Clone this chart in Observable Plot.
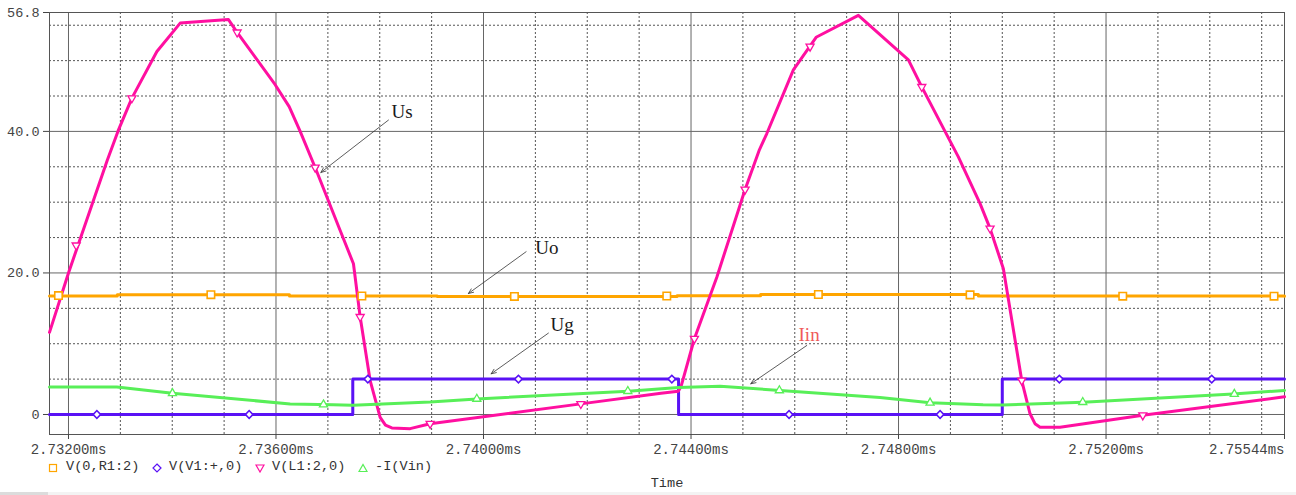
<!DOCTYPE html>
<html><head><meta charset="utf-8">
<script src="https://cdn.jsdelivr.net/npm/d3@7"></script>
<script src="https://cdn.jsdelivr.net/npm/@observablehq/plot@0.6"></script>
<style>
body{margin:0;background:#fff;}
#wrap{position:relative;width:1296px;height:495px;overflow:hidden;font-family:"Liberation Mono","Courier New",monospace;color:#333;}
#wrap svg{display:block;}
#wrap svg text{font-family:"Liberation Mono","Courier New",monospace;}
#wrap svg text.serif, #wrap svg g.serif text{font-family:"Liberation Serif","Times New Roman",serif;}
.lg{position:absolute;top:459px;font-size:13.6px;line-height:16px;white-space:pre;color:#333;}
.sym{position:absolute;top:463px;}
#time{position:absolute;top:476px;left:0;width:1334px;text-align:center;font-size:13.6px;color:#333;}
#bar{position:absolute;top:492px;left:0;width:1296px;height:3px;background:#f3f3f3;}
#bar2{position:absolute;top:492px;left:0;width:48px;height:3px;background:#dcdcdc;}
</style></head><body><div id="wrap"></div>
<script>
// ---- data (time in ms, values in V / A) ----
const usT = [2.731634,2.732000,2.732746,2.732958,2.733222,2.733704,2.734153,2.735084,2.735251,2.735984,2.736254,2.736466,2.736755,2.737237,2.737493,2.737622,2.737815,2.738008,2.738110,2.738233,2.738586,2.738971,2.741876,2.743420,2.743757,2.743810,2.744065,2.744497,2.745042,2.745318,2.745461,2.745973,2.746411,2.747226,2.748190,2.748448,2.749153,2.749572,2.749764,2.750021,2.750375,2.750535,2.750630,2.750728,2.751113,2.752708,2.755440];
const usV = [11.6,20.0,35.9,40.1,44.7,51.3,55.3,55.8,54.0,46.6,43.5,40.0,34.9,26.0,21.3,13.8,4.8,-0.4,-1.5,-1.9,-2.0,-1.3,1.5,3.0,3.3,4.0,10.7,19.4,31.8,37.4,39.7,48.7,53.3,56.4,50.1,46.3,36.4,29.8,26.3,20.6,4.8,0.1,-1.3,-1.8,-1.8,-0.1,2.5];

const uoT = [2.731634,2.732940,2.736260,2.739110,2.743730,2.745340,2.749540,2.755440];
const uoV = [16.76,16.93,16.74,16.68,16.78,16.95,16.74,16.72];

const ugT = [2.731634,2.737480,2.743760,2.750000,2.755440];
const ugV = [0,5,0,5,5];

const iinT = [2.731634,2.732933,2.734004,2.736273,2.737102,2.737481,2.738971,2.739871,2.742793,2.743757,2.744561,2.745717,2.747644,2.748608,2.749630,2.750001,2.751557,2.754448,2.755440];
const iinV = [3.9,3.9,3.0,1.5,1.38,1.3,1.75,2.2,3.3,3.8,4.0,3.4,2.4,1.66,1.37,1.35,1.74,2.9,3.4];

// trace markers
const uoMkT = [2.731807,2.734745,2.737655,2.740596,2.743533,2.746455,2.749379,2.752322,2.755238];
const uoMkV = [16.8,16.93,16.74,16.68,16.74,16.95,16.9,16.72,16.72];
const ugMkT = [2.732547,2.735483,2.737770,2.740673,2.743630,2.745890,2.748801,2.751100,2.754037];
const ugMkV = [0,0,5,5,5,0,0,5,5];
const usMkT = [2.732148,2.733222,2.735251,2.736755,2.737622,2.738971,2.741876,2.744065,2.745042,2.746295,2.748448,2.749764,2.750375,2.752708];
const usMkV = [23.9,44.7,54.0,34.9,13.8,-1.3,1.5,10.7,31.8,52.0,46.3,26.3,4.8,-0.1];
const iinMkT = [2.734004,2.736915,2.739871,2.742782,2.745703,2.748608,2.751551,2.754473];
const iinMkV = [3.0,1.4,2.2,3.3,3.4,1.66,1.74,2.9];

// axes / grid
const xMajor = [2.732,2.736,2.740,2.744,2.748,2.752];
const xEnd = [2.75544];
const xMinor = [2.733,2.734,2.735,2.737,2.738,2.739,2.741,2.742,2.743,2.745,2.746,2.747,2.749,2.750,2.751,2.753,2.754,2.755];
const yMajor = [0,20,40];
const yTicks = [0,20,40,56.8];
const yTickLabels = ["0","20.0","40.0","56.8"];
const yMinor = [5,10,15,25,30,35,45,50,55];

// annotations
const annLabel = ["Us","Uo","Ug","Iin"];
const annTextT = [2.738432,2.741220,2.741515,2.746276];
const annTextV = [42.7,23.6,12.6,11.2];
const annX1 = [2.738168,2.740821,2.741251,2.746231];
const annY1 = [41.6,23.0,11.5,9.75];
const annX2 = [2.736865,2.739709,2.740147,2.745152];
const annY2 = [34.2,17.1,5.75,4.34];
const annColor = ["#1a1a1a","#1a1a1a","#1a1a1a","#f05a5a"];

const legendNames = ["V(0,R1:2)","V(V1:+,0)","V(L1:2,0)","-I(Vin)"];
const colors = {uo:"#ffa500", ug:"#5a12f5", us:"#ff0fa0", iin:"#58ef58"};

const idx = a => a.map((_, i) => i);
const mono = "Liberation Mono";
const serif = "Liberation Serif";

const chart = Plot.plot({
  width: 1296, height: 460,
  marginLeft: 49, marginRight: 12, marginTop: 12, marginBottom: 26,
  x: {domain: [2.731634, 2.75544], axis: null},
  y: {domain: [-2.826, 56.8], axis: null},
  style: {background: "white", fontFamily: mono, overflow: "visible"},
  marks: [
    Plot.ruleX(xMinor, {stroke: "#555", strokeDasharray: "2,2", strokeWidth: 1}),
    Plot.ruleY(yMinor, {stroke: "#555", strokeDasharray: "2,2", strokeWidth: 1}),
    Plot.ruleX(xMajor, {stroke: "#666", strokeWidth: 1}),
    Plot.ruleY(yMajor, {stroke: "#666", strokeWidth: 1}),
    Plot.frame({stroke: "#555"}),
    Plot.axisX(xMajor, {tickFormat: d => d.toFixed(5) + "ms", tickSize: 5, tickPadding: 5, fontSize: 14, fontFamily: mono, color: "#444"}),
    Plot.axisX(xEnd, {tickFormat: d => d.toFixed(5) + "ms", tickSize: 5, tickPadding: 5, fontSize: 14, fontFamily: mono, color: "#444", textAnchor: "end"}),
    Plot.axisY(yTicks, {tickFormat: (d, i) => yTickLabels[i], tickSize: 6, tickPadding: 4, fontSize: 13.5, fontFamily: mono, color: "#444"}),
    Plot.line(idx(uoT), {x: i => uoT[i], y: i => uoV[i], stroke: colors.uo, strokeWidth: 3, curve: "step-after"}),
    Plot.line(idx(ugT), {x: i => ugT[i], y: i => ugV[i], stroke: colors.ug, strokeWidth: 3, curve: "step-after"}),
    Plot.line(idx(usT), {x: i => usT[i], y: i => usV[i], stroke: colors.us, strokeWidth: 3, strokeLinejoin: "round"}),
    Plot.line(idx(iinT), {x: i => iinT[i], y: i => iinV[i], stroke: colors.iin, strokeWidth: 3}),
    Plot.dot(idx(uoMkT), {x: i => uoMkT[i], y: i => uoMkV[i], symbol: "square", r: 4.2, stroke: colors.uo, fill: "white", strokeWidth: 1.6}),
    Plot.dot(idx(ugMkT), {x: i => ugMkT[i], y: i => ugMkV[i], symbol: "square", rotate: 45, r: 3, stroke: colors.ug, fill: "white", strokeWidth: 1.6}),
    Plot.dot(idx(usMkT), {x: i => usMkT[i], y: i => usMkV[i], symbol: "triangle", rotate: 180, r: 3, stroke: colors.us, fill: "white", strokeWidth: 1.3}),
    Plot.dot(idx(iinMkT), {x: i => iinMkT[i], y: i => iinMkV[i], symbol: "triangle", r: 3, stroke: colors.iin, fill: "white", strokeWidth: 1.3}),
    Plot.arrow(idx(annLabel), {x1: i => annX1[i], y1: i => annY1[i], x2: i => annX2[i], y2: i => annY2[i], stroke: "#333", strokeWidth: 0.8, headLength: 10, headAngle: 45}),
    Plot.text(idx(annLabel), {x: i => annTextT[i], y: i => annTextV[i], text: i => annLabel[i], fill: i => annColor[i], fontSize: 19, fontFamily: serif, className: "serif"})
  ]
});

const wrap = document.getElementById("wrap");
wrap.appendChild(chart);

// legend below the chart
const symSvg = [
  `<svg width="10" height="10"><rect x="1.5" y="1.5" width="7" height="7" fill="white" stroke="${colors.uo}" stroke-width="1.2"/></svg>`,
  `<svg width="10" height="10"><path d="M5 1 L9 5 L5 9 L1 5 Z" fill="white" stroke="${colors.ug}" stroke-width="1.2"/></svg>`,
  `<svg width="10" height="10"><path d="M1 2 L9 2 L5 9 Z" fill="white" stroke="${colors.us}" stroke-width="1.2"/></svg>`,
  `<svg width="10" height="10"><path d="M1 8.5 L9 8.5 L5 1.5 Z" fill="white" stroke="${colors.iin}" stroke-width="1.2"/></svg>`
];
const symX = [48, 152, 255, 358];
const txtX = [66, 169, 272, 375];
legendNames.forEach((n, i) => {
  const s = document.createElement("div");
  s.className = "sym"; s.style.left = symX[i] + "px"; s.innerHTML = symSvg[i];
  wrap.appendChild(s);
  const t = document.createElement("div");
  t.className = "lg"; t.style.left = txtX[i] + "px"; t.textContent = n;
  wrap.appendChild(t);
});
const tm = document.createElement("div"); tm.id = "time"; tm.textContent = "Time"; wrap.appendChild(tm);
const b = document.createElement("div"); b.id = "bar"; wrap.appendChild(b);
const b2 = document.createElement("div"); b2.id = "bar2"; wrap.appendChild(b2);
</script>
</body></html>
